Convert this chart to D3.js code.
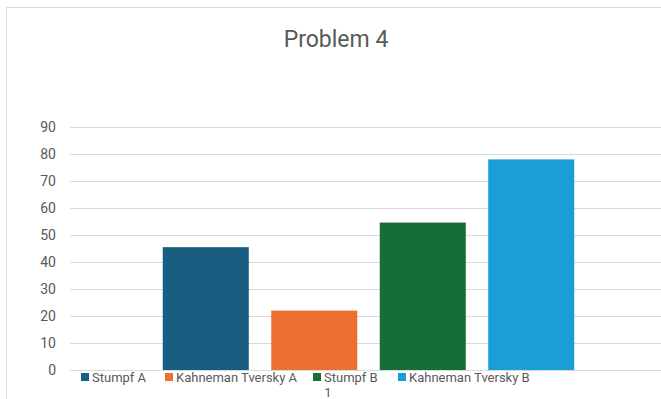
<!DOCTYPE html>
<html><head><meta charset="utf-8">
<script src="https://cdn.jsdelivr.net/npm/d3@7"></script>
<style>body{margin:0;background:#fff}svg{display:block}text{font-family:Roboto,"Liberation Sans",Arial,sans-serif}</style>
</head><body>
<svg id="c" width="661" height="399"></svg>
<script>
const title = "Problem 4";
const categories = ["1"];
const seriesNames = ["Stumpf A", "Kahneman Tversky A", "Stumpf B", "Kahneman Tversky B"];
const seriesValues = [45.5, 22, 54.6, 78];
const seriesColors = ["#175e80", "#ec7030", "#166d38", "#199fd6"];
const yTicks = [0, 10, 20, 30, 40, 50, 60, 70, 80, 90];

const svg = d3.select("#c");
svg.append("rect").attr("x", 6.5).attr("y", 7.5).attr("width", 700).attr("height", 500)
  .attr("fill", "none").attr("stroke", "#d9d9d9").attr("stroke-width", 1);

const plot = {left: 70, right: 667, top: 127, bottom: 370};
const y = d3.scaleLinear().domain([0, 90]).range([plot.bottom, plot.top]);
const x0 = d3.scaleBand().domain(categories).range([plot.left, plot.right]).paddingInner(0).paddingOuter(0.2254);
const x1 = d3.scaleBand().domain(seriesNames).range([0, x0.bandwidth()]).paddingInner(0.207);

svg.append("g").selectAll("line").data(yTicks).join("line")
  .attr("x1", plot.left).attr("x2", 661)
  .attr("y1", d => Math.round(y(d)) + 0.5).attr("y2", d => Math.round(y(d)) + 0.5)
  .attr("stroke", "#d9d9d9").attr("stroke-width", 1);

const yAxis = d3.axisLeft(y).tickValues(yTicks).tickSize(0).tickPadding(0);
const ga = svg.append("g").attr("transform", `translate(56,0)`).call(yAxis);
ga.select(".domain").remove();
ga.selectAll("text").attr("font-size", 14).attr("fill", "#595959")
  .attr("font-family", "Roboto, Liberation Sans, Arial, sans-serif");

const g = svg.append("g");
categories.forEach((c, ci) => {
  g.selectAll("rect.s" + ci).data(seriesValues).join("rect")
    .attr("x", (d, i) => x0(c) + x1(seriesNames[i]))
    .attr("width", x1.bandwidth())
    .attr("y", d => y(d))
    .attr("height", d => y(0) - y(d))
    .attr("fill", (d, i) => seriesColors[i]);
});

svg.append("text").attr("x", 336).attr("y", 47).attr("text-anchor", "middle")
  .attr("font-size", 23).attr("fill", "#595959").text(title);

const legendX = [81, 165, 313, 398];
const lg = svg.append("g");
seriesNames.forEach((n, i) => {
  lg.append("rect").attr("x", legendX[i]).attr("y", 373).attr("width", 8).attr("height", 8).attr("fill", seriesColors[i]);
  lg.append("text").attr("x", legendX[i] + 11).attr("y", 382).attr("font-size", 13).attr("fill", "#595959").text(n);
});

svg.append("text").attr("x", 328).attr("y", 397).attr("text-anchor", "middle")
  .attr("font-size", 13).attr("fill", "#595959").text(categories[0]);
</script>
</body></html>
